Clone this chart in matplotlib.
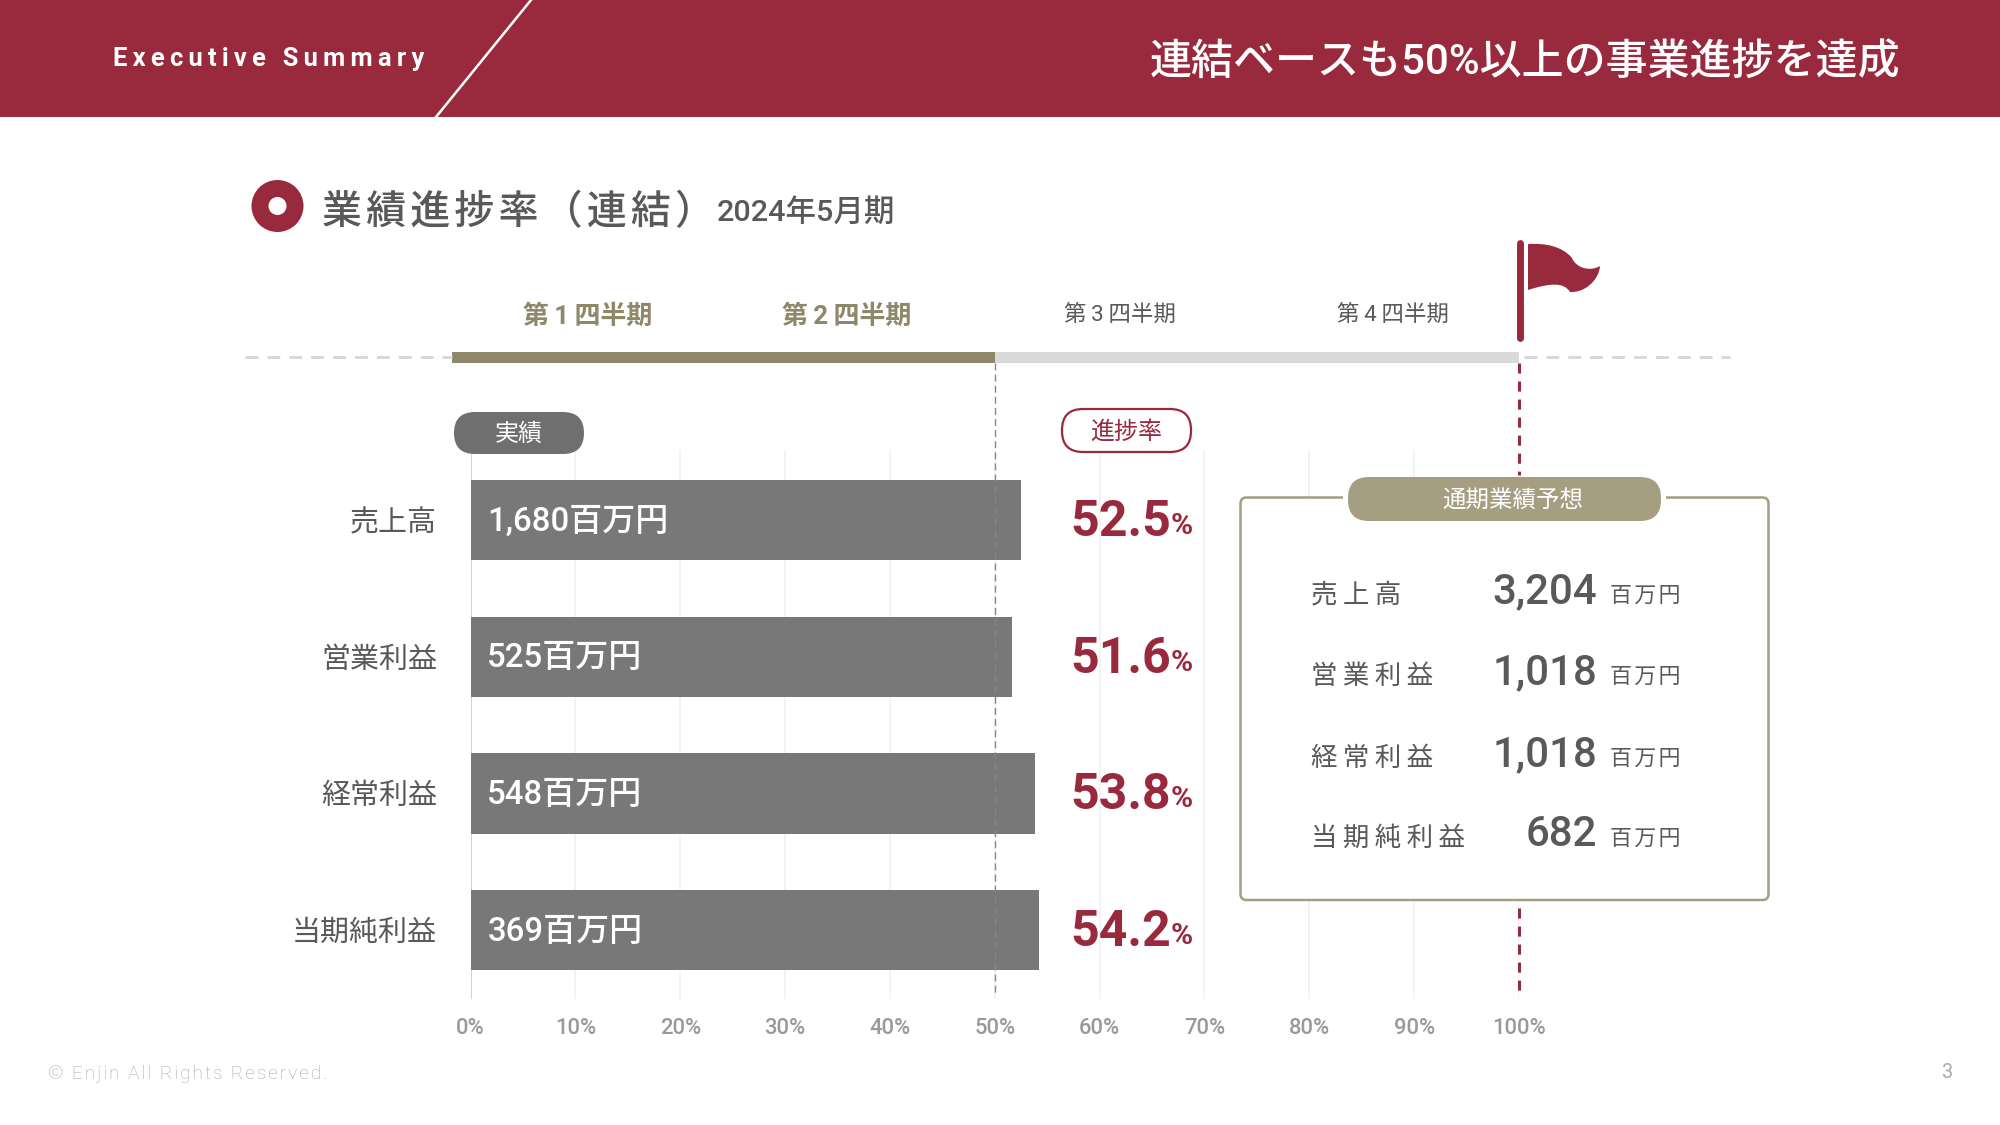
#Consolidated progress slide
import matplotlib
matplotlib.use('Agg')
import matplotlib.pyplot as plt
from matplotlib.patches import FancyBboxPatch, Circle, PathPatch, Rectangle
from matplotlib.path import Path

FONTS = ['Roboto', 'Noto Sans CJK JP', 'DejaVu Sans']
plt.rcParams['font.family'] = FONTS

#Chart values
categories = ['売上高', '営業利益', '経常利益', '当期純利益']
progress = [52.5, 51.6, 53.8, 54.2]
actual_labels = ['1,680百万円', '525百万円', '548百万円', '369百万円']
ticks = [0, 10, 20, 30, 40, 50, 60, 70, 80, 90, 100]

#Full year forecast panel
forecast_names = ['売上高', '営業利益', '経常利益', '当期純利益']
forecast_values = ['3,204', '1,018', '1,018', '682']

#Quarter strip
quarters = ['第 1 四半期', '第 2 四半期', '第 3 四半期', '第 4 四半期']

RED = '#992A3E'
TAN = '#8F8769'
TAN2 = '#A69E80'
BAR = '#787878'
DARK = '#595959'
W, H = 2000, 1125
HAIR = '\u200a'
THIN = '\u2009'


def px(size):
	#font size in image pixels to points
	return size*0.72


def spaced(s, sep=HAIR):
	return sep.join(s)


fig = plt.figure(figsize=(20, 11.25), dpi=100, facecolor='white')

#Bars sit on real axes, 0..100 from x=470.5 to x=1519
ax = fig.add_axes([470.5/W, 1-999/H, (1519-470.5)/W, (999-450)/H])
ypos = range(len(categories))
ax.barh(ypos, progress, height=0.588, color=BAR, zorder=3)
ax.set_xlim(0, 100)
ax.set_ylim(3.504, -0.512)
ax.set_xticks(ticks)
ax.set_xticklabels([str(t)+'%' for t in ticks], fontsize=px(22), color='#999999', fontweight='medium')
ax.set_yticks(list(ypos))
ax.set_yticklabels(categories, fontsize=px(29), color=DARK)
ax.tick_params(axis='x', length=0, pad=14)
ax.tick_params(axis='y', length=0, pad=24)
ax.grid(axis='x', color='#F1F1F1', lw=1.2, zorder=0)
ax.set_axisbelow(True)
for s in ax.spines.values():
	s.set_visible(False)
ax.axvline(0, color='#D2D2D2', lw=1.4, zorder=2)
ax.patch.set_alpha(0)
for i in ypos:
	ax.text(1.6, i+0.012, actual_labels[i], color='white', fontsize=px(33), fontweight='medium', va='center', ha='left', zorder=5)

#Overlay in image pixels for the slide furniture
ov = fig.add_axes([0, 0, 1, 1], zorder=5)
ov.set_xlim(0, W)
ov.set_ylim(H, 0)
ov.axis('off')
ov.patch.set_alpha(0)

#Header band
ov.add_patch(Rectangle((0, 0), W, 117, color=RED, lw=0))
ov.plot([531, 436], [0, 117], color='white', lw=1.8)
ov.text(113, 59, spaced('Executive Summary', THIN), color='white', fontsize=px(25.5), fontweight='bold', va='center')
ov.text(1900, 62, '連結ベースも50%以上の事業進捗を達成', color='white', fontsize=px(42), ha='right', va='center', fontweight='medium')

#Section title
ov.add_patch(Circle((277.5, 206), 26, color=RED, lw=0))
ov.add_patch(Circle((277.5, 206), 9, color='white', lw=0))
ov.text(322, 213, spaced('業績進捗率（連結）'), color=DARK, fontsize=px(40), va='center', fontweight='medium')
ov.text(717, 212, '2024年5月期', color=DARK, fontsize=px(30.5), va='center', fontweight='medium')

#Quarter strip
ov.text(588, 317, quarters[0].replace(' ', THIN), color=TAN, fontsize=px(26), fontweight='bold', ha='center', va='center')
ov.text(847, 317, quarters[1].replace(' ', THIN), color=TAN, fontsize=px(26), fontweight='bold', ha='center', va='center')
ov.text(1120, 315, quarters[2].replace(' ', THIN), color=DARK, fontsize=px(22.5), ha='center', va='center')
ov.text(1393, 315, quarters[3].replace(' ', THIN), color=DARK, fontsize=px(22.5), ha='center', va='center')
ov.plot([245, 452], [357, 357], color='#D9D9D9', lw=2.16, dashes=(4.3, 3))
ov.plot([1524, 1730], [357, 357], color='#D9D9D9', lw=2.16, dashes=(4.3, 3))
ov.add_patch(Rectangle((452, 352), 543, 11, color=TAN, lw=0))
ov.add_patch(Rectangle((995, 352), 524, 11, color='#D9D9D9', lw=0))

#50% guide and 100% guide
ov.plot([994.5, 994.5], [363, 995], color='#8F8769', lw=1.0, dashes=(5, 3), zorder=4)
ov.plot([1519, 1519], [363, 475], color=RED, lw=2.2, dashes=(3.3, 2.6), zorder=1)
ov.plot([1519, 1519], [908, 992], color=RED, lw=2.2, dashes=(3.3, 2.6), zorder=1)

#Flag
ov.plot([1520, 1520], [243, 338], color=RED, lw=5, solid_capstyle='round')
flag = Path([(1528, 244), (1545, 243), (1562, 246), (1572, 258), (1576, 268), (1590, 272), (1600, 266),
	(1599, 280), (1585, 293), (1570, 292), (1564, 282), (1550, 283), (1528, 290), (1528, 244)],
	[Path.MOVETO, Path.CURVE4, Path.CURVE4, Path.CURVE4, Path.CURVE4, Path.CURVE4, Path.CURVE4,
	Path.CURVE4, Path.CURVE4, Path.CURVE4, Path.CURVE4, Path.CURVE4, Path.CURVE4, Path.CLOSEPOLY])
ov.add_patch(PathPatch(flag, color=RED, lw=0))

#Column pills
ov.add_patch(FancyBboxPatch((454, 412), 130, 42, boxstyle='round,pad=0,rounding_size=21', fc='#6F6F6F', ec='none'))
ov.text(519, 434, '実績', color='white', fontsize=px(24), ha='center', va='center')
ov.add_patch(FancyBboxPatch((1062, 409), 129, 43, boxstyle='round,pad=0,rounding_size=21', fc='white', ec=RED, lw=1.6))
ov.text(1126, 432, '進捗率', color=RED, fontsize=px(24), ha='center', va='center')

#Progress rates
for i in ypos:
	yc = H-ax.transData.transform((0, i))[1]
	ov.text(1070, yc+2.5, '%.1f' % progress[i], color=RED, fontsize=px(50), fontweight='bold', va='center')
	ov.text(1193, yc+6, '%', color=RED, fontsize=px(30), fontweight='bold', ha='right', va='center')

#Forecast panel
ov.add_patch(FancyBboxPatch((1240.5, 497.5), 528, 402.5, boxstyle='round,pad=0,rounding_size=6', fc='white', ec=TAN2, lw=1.8, zorder=2))
ov.add_patch(Rectangle((1343, 490), 323, 12, color='white', lw=0, zorder=2.1))
ov.add_patch(FancyBboxPatch((1348, 477), 313, 44, boxstyle='round,pad=0,rounding_size=21', fc=TAN2, ec='none', zorder=3))
ov.text(1513, 500, '通期業績予想', color='white', fontsize=px(23.5), ha='center', va='center', zorder=4)
rows = [595, 676, 758, 838]
for i in range(4):
	ov.text(1311, rows[i], spaced(forecast_names[i], THIN), color=DARK, fontsize=px(26.5), va='center', zorder=4)
	ov.text(1597, rows[i]-3, forecast_values[i], color=DARK, fontsize=px(42), fontweight='medium', ha='right', va='center', zorder=4)
	ov.text(1681, rows[i]+1, spaced('百万円'), color=DARK, fontsize=px(22), ha='right', va='center', zorder=4)

#Footer
ov.text(48, 1074, spaced('© Enjin All Rights Reserved.', HAIR), color='#A6A6A6', fontsize=px(19), va='center', fontweight='light')
ov.text(1947, 1073, '3', color='#AAAAAA', fontsize=px(20), ha='center', va='center')

fig.savefig('out.png', dpi=100)
